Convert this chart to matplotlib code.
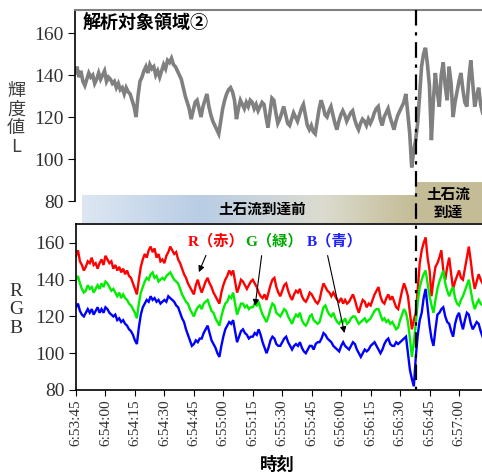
import numpy as np
import matplotlib
matplotlib.use('Agg')
import matplotlib.pyplot as plt
from matplotlib.colors import LinearSegmentedColormap
from matplotlib.lines import Line2D
from matplotlib.patches import Rectangle

plt.rcParams['font.family'] = ['Liberation Serif', 'Noto Sans CJK JP']

# ---- data (1 s resolution, seconds from 6:53:45) ----
L = [141,144,139,142,137,135,138,141,139,140,136,138,141,138,140,142,137,139,138,136,
     137,134,136,133,134,131,134,132,131,128,125,120,130,137,139,142,144,141,145,143,
     144,140,142,139,142,145,143,147,146,148,145,144,142,140,138,134,130,127,124,119,
     123,127,128,124,120,125,128,131,125,121,118,116,114,112,118,124,128,131,133,134,
     132,128,119,124,128,126,124,127,125,128,127,124,126,123,125,127,126,120,115,122,
     129,128,122,117,119,122,125,121,117,116,119,122,120,118,121,124,126,121,116,114,
     116,113,112,118,124,128,125,121,120,123,125,121,117,114,118,121,123,121,118,120,
     122,123,119,116,114,117,119,118,116,119,117,119,122,124,125,119,116,120,122,124,
     120,117,114,118,121,123,125,127,131,122,112,96,104,109,117,130,144,150,153,145,
     135,109,128,141,132,125,140,146,135,128,144,136,120,127,132,137,141,133,127,125,
     138,147,136,125,130,134,126,122]

R = [153,156,150,148,145,147,150,149,152,148,149,146,149,151,148,153,151,149,150,146,
     148,145,147,144,146,143,145,142,141,138,135,132,140,147,151,154,152,156,158,155,
     157,152,154,150,151,149,153,155,158,156,154,155,151,149,146,143,141,138,136,134,
     132,137,140,136,133,136,139,141,138,136,133,131,129,127,133,137,140,142,145,143,
     145,139,133,136,140,139,137,135,137,139,140,138,136,133,131,130,132,129,133,137,
     140,141,136,133,131,134,137,138,134,131,129,132,134,133,135,131,129,128,130,133,
     132,130,128,127,129,134,138,136,134,133,131,133,131,129,128,130,127,129,127,128,
     130,132,129,125,122,126,129,128,125,127,126,129,132,134,136,131,128,127,130,132,
     129,131,128,125,124,129,134,138,135,131,122,113,118,122,135,149,156,160,163,152,
     145,131,140,147,149,152,156,145,140,147,152,143,135,139,142,145,141,140,146,152,
     158,150,141,135,139,143,140,138]

G = [140,142,138,135,133,134,137,135,136,133,135,137,135,138,136,139,138,136,134,135,
     133,131,133,130,132,130,129,127,126,124,122,119,127,133,136,139,141,140,143,144,
     141,142,139,140,141,140,142,143,144,142,140,139,138,135,132,130,128,127,124,122,
     120,123,125,126,124,127,128,129,126,123,122,119,117,115,120,124,127,128,131,130,
     133,127,121,124,127,127,125,126,124,125,125,127,126,128,124,121,119,117,120,124,
     127,126,122,121,120,122,124,123,120,118,116,119,121,120,122,118,116,115,117,120,
     121,118,117,116,117,121,125,126,123,121,120,122,119,117,116,118,117,119,116,117,
     119,120,120,118,116,117,118,119,117,118,119,121,123,124,124,121,118,119,117,118,
     116,117,115,113,114,118,121,124,122,117,108,98,106,116,128,136,140,143,145,138,
     131,126,122,129,135,139,142,145,138,134,131,134,136,130,127,126,129,131,134,137,
     140,134,128,124,127,129,127,126]

B = [125,127,123,121,120,122,124,122,124,121,123,125,122,124,122,125,124,122,121,120,
     121,118,119,117,118,116,115,113,112,110,107,105,114,121,125,127,129,128,131,129,
     130,128,129,127,128,129,128,131,130,129,128,126,125,122,119,117,113,110,107,104,
     105,107,106,108,108,111,113,115,111,107,105,103,100,98,104,109,113,115,117,116,
     118,112,106,109,112,113,111,110,108,109,109,111,110,113,110,106,103,100,103,107,
     109,108,105,104,104,106,108,109,106,104,102,104,105,104,106,103,101,100,102,104,
     104,102,105,106,106,108,111,110,108,107,106,104,103,102,101,104,106,104,103,102,
     104,106,105,102,100,98,100,102,101,102,104,105,106,104,102,100,102,105,107,108,
     105,104,104,106,105,106,107,108,109,100,91,86,82,98,110,118,122,130,135,125,
     115,108,104,113,121,122,124,125,120,117,116,112,109,116,120,122,117,113,118,122,
     121,116,113,115,117,116,112,109]

tick_seconds = [0, 15, 30, 45, 60, 75, 90, 105, 120, 135, 150, 165, 180, 195]
tick_labels = ["6:53:45", "6:54:00", "6:54:15", "6:54:30", "6:54:45", "6:55:00",
               "6:55:15", "6:55:30", "6:55:45", "6:56:00", "6:56:15", "6:56:30",
               "6:56:45", "6:57:00"]
arrival_sec = 173
yticks = [80, 100, 120, 140, 160]

W, H = 482, 476
fig = plt.figure(figsize=(W / 100, H / 100), dpi=100)


def fr(x0, y0, x1, y1):
    return [x0 / W, 1 - y1 / H, (x1 - x0) / W, (y1 - y0) / H]


tcol = '#303030'
ax1 = fig.add_axes(fr(75, 10, 482, 201))
ax2 = fig.add_axes(fr(76, 224, 482, 390))

t = np.arange(len(L))
ax1.plot(t, L, color='#808080', lw=2.6, solid_joinstyle='miter')
ax1.set_xlim(0, 206.7)
ax1.set_ylim(80, 171)
ax1.set_yticks(yticks)
ax1.set_xticks([])
for s in ['right', 'bottom']:
    ax1.spines[s].set_visible(False)
ax1.spines['top'].set_color('#808080')
ax1.spines['top'].set_linewidth(1.5)
ax1.spines['left'].set_linewidth(1.2)
ax1.tick_params(axis='y', direction='out', length=5, labelsize=14, labelcolor=tcol, pad=3)
ax1.text(0.02, 0.93, '解析対象領域②', transform=ax1.transAxes, fontsize=13,
         fontweight='bold', family=['Noto Sans CJK JP'], va='center', ha='left')

tt = np.arange(len(R))
ax2.plot(tt, R, color='#ff0000', lw=1.7, solid_joinstyle='miter')
ax2.plot(tt, G, color='#00ee00', lw=1.7, solid_joinstyle='miter')
ax2.plot(tt, B, color='#0000ff', lw=1.7, solid_joinstyle='miter')
ax2.set_xlim(0, 206.7)
ax2.set_ylim(80, 170.3)
ax2.set_yticks(yticks)
ax2.set_xticks(tick_seconds)
ax2.set_xticklabels(tick_labels, rotation=90)
ax2.spines['right'].set_visible(False)
for s in ['left', 'top', 'bottom']:
    ax2.spines[s].set_linewidth(1.2)
ax2.tick_params(axis='y', direction='out', length=5, labelsize=14, labelcolor=tcol, pad=3)
ax2.tick_params(axis='x', direction='out', length=4, labelsize=11, labelcolor=tcol, pad=3)

# x label placed explicitly so it stays inside the figure
fig.text(277 / W, 1 - 465 / H, '時刻', ha='center', va='center', fontsize=12.5,
         fontweight='bold', family=['Noto Sans CJK JP'])

# legend-like labels with arrows
lab_font = dict(fontsize=11, fontweight='bold', family=['Liberation Serif', 'Noto Sans CJK JP'],
                va='center', ha='left')
ax2.text(57, 161, 'R（赤）', color='#ff0000', **lab_font)
ax2.text(86, 161, 'G（緑）', color='#00a800', **lab_font)
ax2.text(117.5, 161, 'B（青）', color='#2020ff', **lab_font)
aprops = dict(arrowstyle='-|>', color='black', lw=0.8, mutation_scale=9)
ax2.annotate('', xy=(62, 142.7), xytext=(66.7, 154.6), arrowprops=aprops)
ax2.annotate('', xy=(91, 124.3), xytext=(94.7, 154.6), arrowprops=aprops)
ax2.annotate('', xy=(137, 109.5), xytext=(127.8, 154.6), arrowprops=aprops)

# y labels
fig.text(16 / W, 1 - 119 / H, '輝\n度\n値\nL', ha='center', va='center', fontsize=13,
         color='#404040', linespacing=1.05, family=['Noto Sans CJK JP'])
fig.text(16 / W, 1 - 310 / H, 'R\nG\nB', ha='center', va='center', fontsize=14,
         color='#303030', linespacing=1.1)

# band: before arrival (gradient) and arrival box
band = fig.add_axes(fr(82, 195, 415, 223))
cmap = LinearSegmentedColormap.from_list('band', [(0, '#dde7f2'), (0.35, '#b9cde5'),
                                                  (0.72, '#dcdcd0'), (1.0, '#c4bc96')])
band.imshow(np.linspace(0, 1, 256)[None, :], aspect='auto', cmap=cmap,
            extent=[0, 1, 0, 1])
band.set_axis_off()
band.text(0.54, 0.5, '土石流到達前', ha='center', va='center', fontsize=10.5,
          fontweight='bold', family=['Noto Sans CJK JP'])
fig.patches.append(Rectangle((415 / W, 1 - 223 / H), 67 / W, 41 / H,
                             transform=fig.transFigure, facecolor='#c4bc96',
                             edgecolor='none', zorder=1))
fig.text(448 / W, 1 - 203 / H, '土石流\n到達', ha='center', va='center', fontsize=10.5,
         fontweight='bold', family=['Noto Sans CJK JP'], linespacing=1.15, zorder=3)

# dash-dot arrival line across both panels
xd = ax2.transData.transform((arrival_sec, 100))[0]
xf = fig.transFigure.inverted().transform((xd, 0))[0]
fig.lines.append(Line2D([xf, xf], [1 - 10 / H, 1 - 390 / H], transform=fig.transFigure,
                        color='black', lw=1.6, dashes=(7, 3, 1.5, 3), zorder=5))

fig.savefig('out.png', dpi=100)
